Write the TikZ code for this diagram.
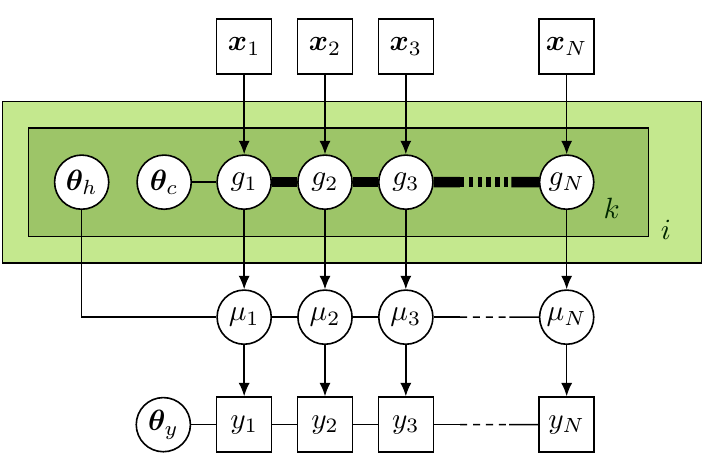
\documentclass[tikz,border=0pt]{standalone}
\usepackage{amsmath, bm}
\usepackage{tikz}
\usetikzlibrary{calc, positioning, arrows.meta}

\definecolor{platei}{RGB}{196,232,142}
\definecolor{platek}{RGB}{157,197,104}

\begin{document}
\begin{tikzpicture}[
    latent/.style={circle, draw, fill=white, minimum size=0.65cm, inner sep=0pt, line width=0.55pt},
    obs/.style={rectangle, draw, fill=white, minimum size=0.66cm, inner sep=0pt, line width=0.55pt},
    edge/.style={line width=0.55pt},
    seta/.style={line width=0.55pt, -{Latex[length=4.6pt, width=3.8pt]}},
    grossa/.style={line width=3.6pt},
    pontos/.style={line width=3.6pt, dash pattern=on 1.5pt off 1.5pt},
    finos/.style={line width=0.55pt, dash pattern=on 2.4pt off 2pt}
]
    \useasboundingbox (0,0) rectangle (8.472,5.496);

    % 1. Placas i e k
    \draw[fill=platei, line width=0.55pt] (0.03,2.34) rectangle (8.42,4.28);
    \draw[fill=platek, line width=0.55pt] (0.34,2.66) rectangle (7.78,3.96);
    \node[text=black!85!green] (k) at (7.34,3.00) {$k$};
    \node[text=black!85!green] (i) at (7.99,2.74) {$i$};

    % 2. Entradas observadas x
    \node[obs] (x1) at (2.93,4.94) {$\bm{x}_1$};
    \node[obs] (x2) at (3.90,4.94) {$\bm{x}_2$};
    \node[obs] (x3) at (4.87,4.94) {$\bm{x}_3$};
    \node[obs] (xN) at (6.80,4.94) {$\bm{x}_N$};

    % 3. Variaveis latentes g e hiperparametros
    \node[latent] (th) at (0.98,3.31) {$\bm{\theta}_h$};
    \node[latent] (tc) at (1.97,3.31) {$\bm{\theta}_c$};
    \node[latent] (g1) at (2.93,3.31) {$g_1$};
    \node[latent] (g2) at (3.90,3.31) {$g_2$};
    \node[latent] (g3) at (4.87,3.31) {$g_3$};
    \node[latent] (gN) at (6.80,3.31) {$g_N$};

    % 4. Medias mu
    \node[latent] (mu1) at (2.93,1.69) {$\mu_1$};
    \node[latent] (mu2) at (3.90,1.69) {$\mu_2$};
    \node[latent] (mu3) at (4.87,1.69) {$\mu_3$};
    \node[latent] (muN) at (6.80,1.69) {$\mu_N$};

    % 5. Saidas observadas y
    \node[latent] (ty) at (1.96,0.40) {$\bm{\theta}_y$};
    \node[obs] (y1) at (2.93,0.40) {$y_1$};
    \node[obs] (y2) at (3.90,0.40) {$y_2$};
    \node[obs] (y3) at (4.87,0.40) {$y_3$};
    \node[obs] (yN) at (6.80,0.40) {$y_N$};

    % 6. Setas verticais
    \draw[seta] (x1) -- (g1);
    \draw[seta] (x2) -- (g2);
    \draw[seta] (x3) -- (g3);
    \draw[seta] (xN) -- (gN);

    \draw[seta] (g1) -- (mu1);
    \draw[seta] (g2) -- (mu2);
    \draw[seta] (g3) -- (mu3);
    \draw[seta] (gN) -- (muN);

    \draw[seta] (mu1) -- (y1);
    \draw[seta] (mu2) -- (y2);
    \draw[seta] (mu3) -- (y3);
    \draw[seta] (muN) -- (yN);

    % 7. Cadeia grossa entre os g
    \draw[edge] (tc) -- (g1);
    \draw[grossa] (g1) -- (g2);
    \draw[grossa] (g2) -- (g3);
    \coordinate (gA) at ($(g3.east)!0.25!(gN.west)$);
    \coordinate (gB) at ($(g3.east)!0.74!(gN.west)$);
    \draw[grossa] (g3) -- (gA);
    \draw[pontos] (gA) -- (gB);
    \draw[grossa] (gB) -- (gN);

    % 8. Ligacoes finas entre mu e entre y
    \draw[edge] (th) |- (mu1);
    \draw[edge] (mu1) -- (mu2);
    \draw[edge] (mu2) -- (mu3);
    \coordinate (muA) at ($(mu3.east)!0.25!(muN.west)$);
    \coordinate (muB) at ($(mu3.east)!0.72!(muN.west)$);
    \draw[edge] (mu3) -- (muA);
    \draw[finos] (muA) -- (muB);
    \draw[edge] (muB) -- (muN);

    \draw[edge] (ty) -- (y1);
    \draw[edge] (y1) -- (y2);
    \draw[edge] (y2) -- (y3);
    \coordinate (yA) at ($(y3.east)!0.25!(yN.west)$);
    \coordinate (yB) at ($(y3.east)!0.72!(yN.west)$);
    \draw[edge] (y3) -- (yA);
    \draw[finos] (yA) -- (yB);
    \draw[edge] (yB) -- (yN);

\end{tikzpicture}
\end{document}
